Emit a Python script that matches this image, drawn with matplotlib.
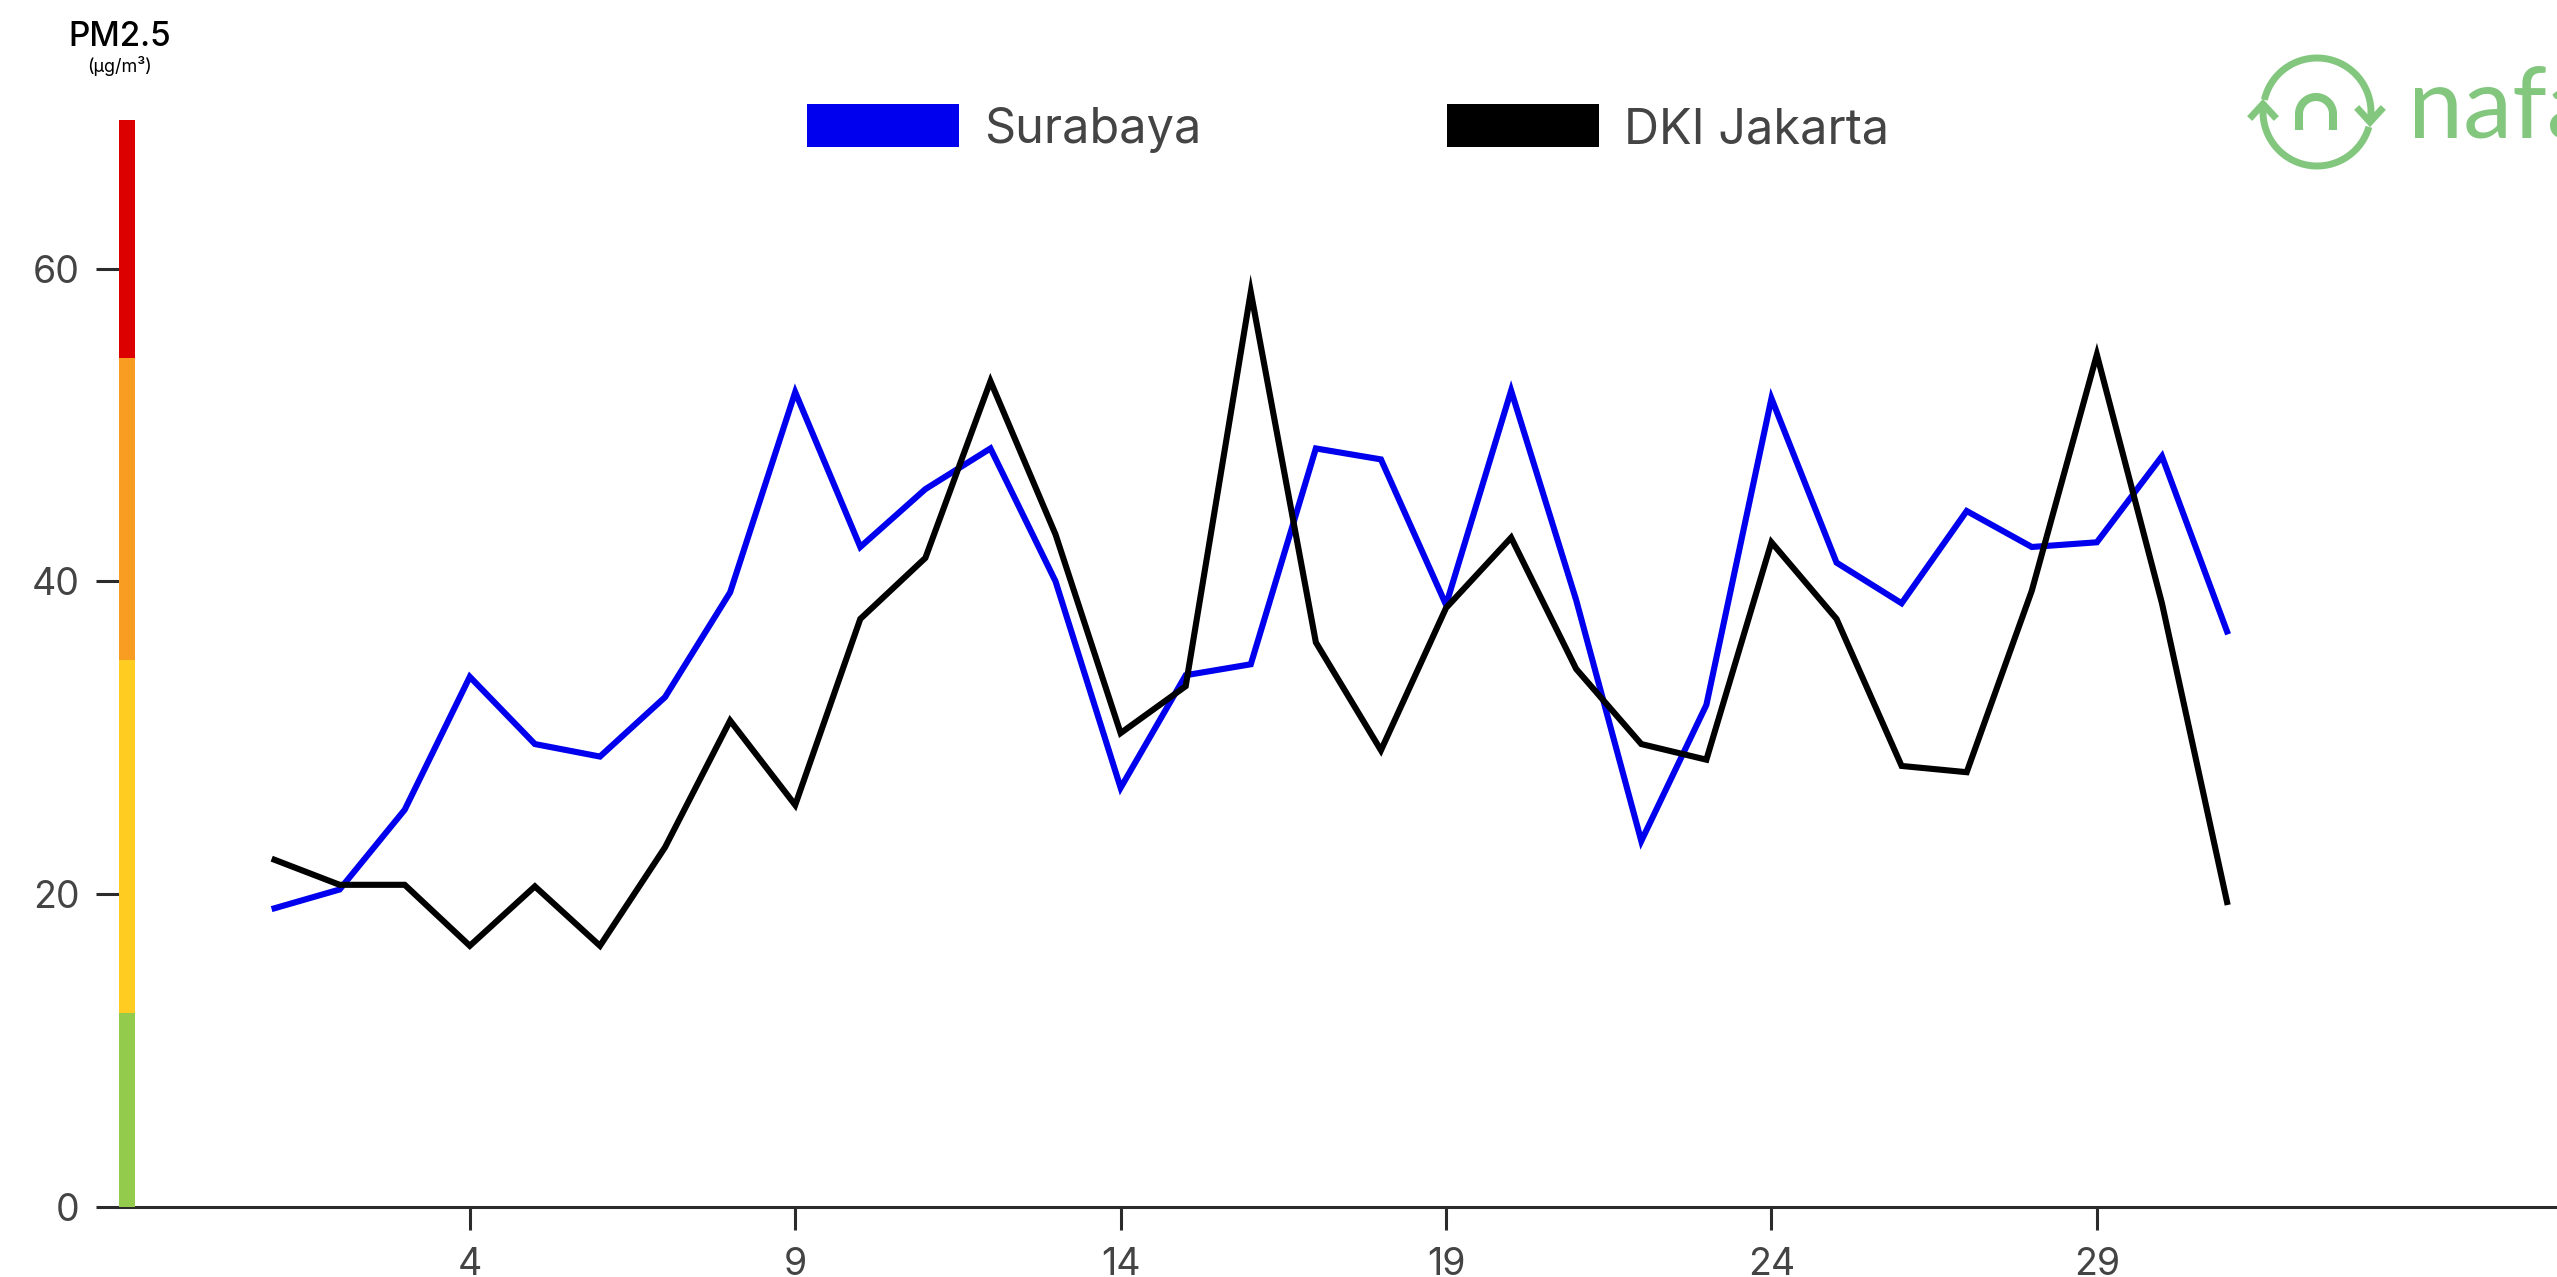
import numpy as np
import matplotlib
matplotlib.use("Agg")
import matplotlib.pyplot as plt
from matplotlib.patches import Rectangle

# --- data (daily PM2.5, ug/m3) ---
days = list(range(1, 32))
surabaya = [19.1, 20.3, 25.4, 33.9, 29.6, 28.8, 32.6, 39.3, 52.1, 42.2,
            45.9, 48.5, 40.0, 26.8, 34.0, 34.7, 48.5, 47.8, 38.5, 52.2,
            38.8, 23.4, 32.1, 51.7, 41.2, 38.6, 44.5, 42.2, 42.5, 48.0, 36.8]
jakarta = [22.2, 20.6, 20.6, 16.7, 20.5, 16.7, 23.0, 31.1, 25.7, 37.6,
           41.5, 52.8, 43.0, 30.3, 33.3, 58.5, 36.1, 29.2, 38.3, 42.8,
           34.4, 29.6, 28.6, 42.5, 37.6, 28.2, 27.8, 39.4, 54.5, 38.6, 19.5]
series_names = ["Surabaya", "DKI Jakarta"]
series_colors = ["#0000ee", "#000000"]

xticks = [4, 9, 14, 19, 24, 29]
yticks = [0, 20, 40, 60]

# air quality bands on the y axis
band_edges = [0, 12.4, 35.0, 54.3, 69.5]
band_colors = ["#93cc4c", "#ffcc22", "#f99d22", "#dd0000"]

W, H = 2557, 1277
plt.rcParams['font.family'] = ['Inter', 'DejaVu Sans']

fig = plt.figure(figsize=(W / 100, H / 100), dpi=100)
ax = fig.add_axes([119 / W, 70 / H, (W - 119) / W, (1207 - 120) / H])

ax.plot(days, surabaya, color=series_colors[0], lw=4.4, solid_joinstyle='miter', zorder=4)
ax.plot(days, jakarta, color=series_colors[1], lw=4.4, solid_joinstyle='miter', zorder=5)

ax.set_xlim(-1.39, 36.07)
ax.set_ylim(0, 69.5)
ax.set_xticks(xticks)
ax.set_yticks(yticks)
for s in ['top', 'right', 'left']:
    ax.spines[s].set_visible(False)
ax.spines['bottom'].set_color('#2b2b2b')
ax.spines['bottom'].set_linewidth(2.2)
ax.tick_params(axis='both', length=16.5, width=2.2, color='#2b2b2b',
               labelsize=27, labelcolor='#444444', pad=12)

trans = ax.get_yaxis_transform()
for lo, hi, c in zip(band_edges[:-1], band_edges[1:], band_colors):
    ax.add_patch(Rectangle((0, lo), 16 / (W - 119), hi - lo, transform=trans,
                           color=c, lw=0, clip_on=False, zorder=6))

# overlay in pixel coordinates for labels, legend and logo
ov = fig.add_axes([0, 0, 1, 1])
ov.set_xlim(0, W)
ov.set_ylim(H, 0)
ov.axis('off')

ov.text(120, 46, "PM2.5", ha='center', va='baseline', fontsize=24, weight=500, color='black')
ov.text(120, 72, "(µg/m³)", ha='center', va='baseline', fontsize=13, color='black')

for x0, name, col in zip([807, 1447], series_names, series_colors):
    ov.add_patch(Rectangle((x0, 104), 152, 43, color=col, lw=0))
    ov.text(x0 + 177, 143, name, ha='left', va='baseline', fontsize=35, color='#444444')

# logo
green = '#83c77f'
cx, cy, r = 2317, 112, 54
t = np.radians(np.linspace(167, -8, 80))
ov.plot(cx + r * np.cos(t), cy - r * np.sin(t), color=green, lw=5, solid_capstyle='butt')
t = np.radians(np.linspace(-16, -185, 80))
ov.plot(cx + r * np.cos(t), cy - r * np.sin(t), color=green, lw=5, solid_capstyle='butt')
ov.plot([2359, 2370, 2381], [110, 122, 110], color=green, lw=5, solid_joinstyle='miter')
ov.plot([2252, 2263, 2274], [116, 104, 116], color=green, lw=5, solid_joinstyle='miter')
a = np.radians(np.linspace(180, 0, 40))
nx = np.concatenate([[2299], 2316 + 17 * np.cos(a), [2333]])
ny = np.concatenate([[130], 114 - 17 * np.sin(a), [130]])
ov.plot(nx, ny, color=green, lw=5.8, solid_capstyle='butt')
ov.text(2408, 138, "nafas", ha='left', va='baseline', fontsize=71,
        family=['Lato', 'DejaVu Sans'], color=green)

fig.savefig("out.png", dpi=100)
